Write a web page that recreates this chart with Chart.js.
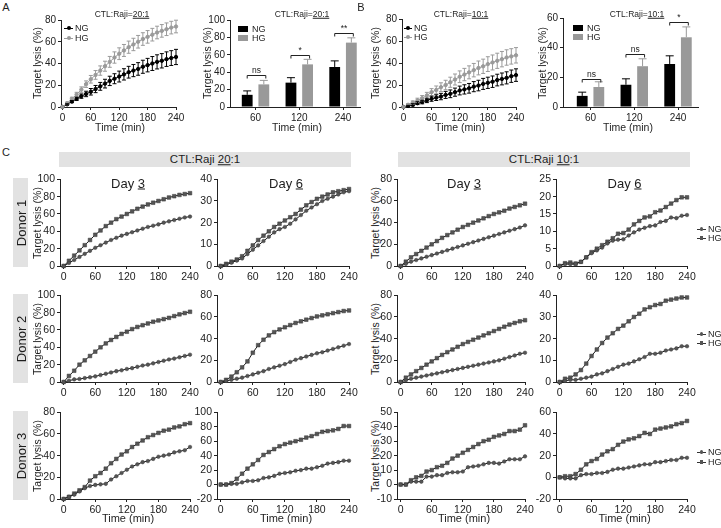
<!DOCTYPE html>
<html><head><meta charset="utf-8">
<script src="https://cdn.jsdelivr.net/npm/chart.js@4"></script>
<style>
body{margin:0;background:#fff;width:721px;height:528px;overflow:hidden;position:relative;font-family:"Liberation Sans",Arial,sans-serif;color:#1e1e1e}
canvas{position:absolute}
.t{position:absolute;white-space:nowrap;line-height:1}
.box{position:absolute;background:#e2e2e2}
.lg{position:absolute}
</style>
</head><body>
<script>
// ---------- DATA ----------
const seriesNames = ['NG','HG'];
const time = [0,10,20,30,40,50,60,70,80,90,100,110,120,130,140,150,160,170,180,190,200,210,220,230,240];
const timeTicks = [0,60,120,180,240];

// Panel A (20:1) kinetics, mean and error
const aNG = [0,2.5,5,7.5,10,12,14,16.5,19,21.5,24,26,28,30,32,33.5,35,37,38.5,40,41.5,42.5,44,45,46];
const aHG = [0,3.5,7.5,11.5,16,21,25.5,29.5,33.5,37.5,41.5,45.5,49,52,55,57.5,60,62.5,64.5,66.5,68.5,70,71.5,73,74];
const aNGerr = [0,0.5,1,1.5,2,2.5,3,3.3,3.6,4,4.3,4.6,5,5.2,5.4,5.6,5.8,6,6.2,6.4,6.5,6.6,6.7,6.8,7];
const aHGerr = [0,1,1.5,2,2.5,3,3.5,4,4.3,4.6,5,5.2,5.4,5.5,5.6,5.7,5.8,5.8,5.8,5.8,5.8,5.8,5.8,5.8,5.8];
// Panel B (10:1) kinetics
const bNG = [0,1,2,3.5,4.5,6,7.5,8.5,9.5,11,12,13.5,15,16,17,18.5,19.5,21,22,23,24.5,25.5,26.5,28,29];
const bHG = [0,2,4,6,8,10.5,13.5,15.5,18,20,22.5,25,27.5,29.5,31.5,33.5,35.5,37,39,40.5,42,43.5,45,46,47];
const bNGerr = [0,0.5,1,1.3,1.6,2,2.3,2.6,2.9,3.2,3.5,3.7,4,4.2,4.4,4.6,4.8,5,5.1,5.2,5.3,5.4,5.5,5.6,5.7];
const bHGerr = [0,1,1.5,2,2.4,2.8,3.2,3.6,4,4.3,4.6,5,5.3,5.6,5.9,6.1,6.3,6.5,6.7,6.8,6.9,7,7,7,7];

// Bar charts
const barCats = ['60','120','240'];
const aBarNG = [14,28,46], aBarNGerr = [4.5,5.7,7];
const aBarHG = [26,49,74], aBarHGerr = [4.6,5.8,5.5];
const aSigLevel = [37,60,85], aSigText = ['ns','*','**'];
const bBarNG = [7.5,15,29], bBarNGerr = [2.5,4,5.5];
const bBarHG = [13.5,27.5,47], bBarHGerr = [3.5,5,7];
const bSigLevel = [19,36,57], bSigText = ['ns','ns','*'];

// Panel C: donor x ratio x day
const d1_20_3_NG = [0,3.5,7,10.5,14,17.5,21,24,27,30,32.5,35,37,39,41,43,45,46.5,48,50,51.5,53,54.5,56,57];
const d1_20_3_HG = [0,6,12,18,24,30,36,41,46,50,54,57,60,63,66,68.5,71,73,75,77,79,80.5,82,83,84];
const d1_20_6_NG = [0,0.5,1.5,2.5,3.5,5.5,7.5,9.5,11.5,13.5,15.5,17,18,19.5,21.5,23.5,25.5,27,28.5,30,31,32,33,34,34.5];
const d1_20_6_HG = [0,1,2,3,4.5,7,9.5,12,14,16,18,19.5,21,22.5,24,26,28,29.5,31,32,33,34,34.5,35,35.5];
const d1_10_3_NG = [0,2,4,5.5,7,8.5,10,11.5,13,14.5,16,17.5,19,20.5,22,23.5,25,26.5,28,29.5,31,32.5,34,35.5,37.5];
const d1_10_3_HG = [0,4,8,11,14,17,20,23,26,28.5,31,33.5,36,38,40,42,44,46,48,49.5,51,53,54.5,56,57.5];
const d1_10_6_NG = [0,0.6,0.5,0.6,1.2,2.5,3.7,4.5,5.3,6.5,7.3,7.6,7.7,8.8,9.7,10.5,11,11.5,11.7,12.7,13,14,13.8,14.5,14.7];
const d1_10_6_HG = [0,0.8,1,0.7,1.2,2.5,4,5,6,7,8,9.3,9.5,10.5,12,13,14,14.3,15.5,16,17,18,19,19.8,19.8];

const d2_20_3_NG = [0,1.5,3,3.5,4.5,5.5,6.5,8,9.5,11,12.5,13.5,15,16,17.5,19,20,21.5,23,24.5,26,27,28.5,30,31.5];
const d2_20_3_HG = [0,7,13,20,25,30,35,40,44.5,48.5,52,55.5,58,61,63.5,65.5,67.5,69.5,71,72.5,74,76,78,79.5,81];
const d2_20_6_NG = [0,1,2,3,4,5.5,7,8.5,10,12,13.5,15,16.5,18.5,20.5,22,23.5,25,26.5,27.5,29,30.5,32,33.5,35];
const d2_20_6_HG = [0,2,5,9,13.5,19,27,34,39,43,46,48.5,50.5,52.5,54.5,56,57.5,59,60.5,61.5,62.5,63.5,64.5,65.5,66];
const d2_10_3_NG = [0,1.5,3,4,5,6,7,8,9,10,11,12,13,14,15,16,17,18,19,20,21.5,23,24.5,26,27];
const d2_10_3_HG = [0,4,7,10,13,16,19,22,25,27.5,30,32.5,35,37,39,41,43,45,47,49,51,53,54.5,56,57];
const d2_10_6_NG = [0,0.5,1,1,1.5,2,2.5,3.5,4,5,6,7,8,8.5,9.5,10.5,11.5,13,13,13.5,14.5,15,15.5,16.5,16.5];
const d2_10_6_HG = [0,1.5,2,3.5,5.5,8.5,12,15,18,20.5,22.5,24.5,26,28,30,31.5,33.5,34.5,35.5,36,37.5,38,38.5,39,39];

const d3_20_3_NG = [0,2,4,7,10,12,13,13.5,14,18,21,24,27,30,32,34,35,37,39,40,41,43,44,45,48];
const d3_20_3_HG = [0,2,5,8,11,17,21,24,28,33,37,41,44,48,51,54,57,59,61,63,64,66,67,69,70];
const d3_20_6_NG = [0,0,1,1,3,5,5,6,9,10,12,15,16,17,19,20,22,22,24,26,29,30,31,33,33];
const d3_20_6_HG = [0,0,2,8,15,22,28,34,41,45,49,53,56,58,60,62,65,67,70,73,74,75,77,81,81];
const d3_10_3_NG = [0,0,2,2,2,5.5,5.5,6.5,6.5,8,8.5,8.5,9,12,12.5,13,14,15,15,14.5,16,17.5,17.5,17.5,19.5];
const d3_10_3_HG = [0,0,3,5,6,9,10,12,13,15,18,20,22,24,26,28,30,31,33,34,35,37,37,38,41];
const d3_10_6_NG = [0,-1,-1,-1,2,3,3,4,4,5,7,8,8,9,10,11,12,12,14,14,15,16,16,18,18];
const d3_10_6_HG = [0,1,1,3,7,12,15,17,21,24,26,30,33,35,36,38,41,40,44,45,46,47,49,50,52];

// y tick labels per panel
const aLineTicks = [0,20,40,60,80];
const aBarTicks = [0,20,40,60,80,100];
const bLineTicks = [0,20,40,60,80];
const bBarTicks = [0,20,40,60];
const cYTicks = [
  [[0,20,40,60,80,100],[0,10,20,30,40],[0,20,40,60,80],[0,5,10,15,20,25]],
  [[0,20,40,60,80,100],[0,20,40,60,80],[0,20,40,60,80],[0,10,20,30,40]],
  [[0,20,40,60,80],[-20,0,20,40,60,80,100],[-10,0,10,20,30,40,50],[-20,0,20,40,60]]
];
const cData = [
  [[d1_20_3_NG,d1_20_3_HG],[d1_20_6_NG,d1_20_6_HG],[d1_10_3_NG,d1_10_3_HG],[d1_10_6_NG,d1_10_6_HG]],
  [[d2_20_3_NG,d2_20_3_HG],[d2_20_6_NG,d2_20_6_HG],[d2_10_3_NG,d2_10_3_HG],[d2_10_6_NG,d2_10_6_HG]],
  [[d3_20_3_NG,d3_20_3_HG],[d3_20_6_NG,d3_20_6_HG],[d3_10_3_NG,d3_10_3_HG],[d3_10_6_NG,d3_10_6_HG]]
];
const donors = ['Donor 1','Donor 2','Donor 3'];
const days = ['Day <u>3</u>','Day <u>6</u>','Day <u>3</u>','Day <u>6</u>'];
const yTitle = 'Target lysis (%)';
const xTitle = 'Time (min)';

// ---------- STYLE / LAYOUT ----------
const F = '"Liberation Sans", Arial, sans-serif';
const AX = '#222', TC = '#222';
Chart.defaults.font.family = F;
Chart.defaults.animation = false;

function txt(s, x, y, size, opt={}){
  const d = document.createElement('div'); d.className='t'; d.innerHTML = s;
  d.style.fontSize = size+'px'; d.style.left = x+'px'; d.style.top = y+'px';
  let tr = opt.left ? 'translate(0,-50%)' : 'translate(-50%,-50%)';
  if (opt.rot) tr += ' rotate(-90deg)';
  d.style.transform = tr;
  document.body.appendChild(d); return d;
}
function box(x0,y0,x1,y1){
  const d=document.createElement('div'); d.className='box';
  d.style.left=x0+'px'; d.style.top=y0+'px'; d.style.width=(x1-x0)+'px'; d.style.height=(y1-y0)+'px';
  document.body.appendChild(d);
}
function lgLine(x,y,w,color,mcolor,shape,size){
  const l=document.createElement('div'); l.className='lg';
  l.style.left=x+'px'; l.style.top=(y-0.5)+'px'; l.style.width=w+'px'; l.style.height='1px'; l.style.background=color;
  document.body.appendChild(l);
  const m=document.createElement('div'); m.className='lg';
  m.style.left=(x+w/2-size/2)+'px'; m.style.top=(y-size/2)+'px'; m.style.width=size+'px'; m.style.height=size+'px';
  m.style.background=mcolor; if(shape==='circle') m.style.borderRadius='50%';
  document.body.appendChild(m);
}
function lgBox(x,y,w,h,color){
  const m=document.createElement('div'); m.className='lg';
  m.style.left=x+'px'; m.style.top=(y-h/2)+'px'; m.style.width=w+'px'; m.style.height=h+'px'; m.style.background=color;
  document.body.appendChild(m);
}

const errPlugin = {
  id:'errbars',
  afterDatasetsDraw(chart){
    const ctx=chart.ctx, ys=chart.scales.y;
    chart.data.datasets.forEach((ds,i)=>{
      if(!ds.errors) return;
      const meta=chart.getDatasetMeta(i);
      ctx.save(); ctx.strokeStyle=ds.errColor; ctx.lineWidth=1;
      meta.data.forEach((el,j)=>{
        const e=ds.errors[j]; if(!e) return;
        const v=ds.data[j].y;
        const yt=ys.getPixelForValue(v+e);
        const yb=ds.upperOnly? el.y : ys.getPixelForValue(v-e);
        const c=ds.cap||2.5;
        ctx.beginPath();
        ctx.moveTo(el.x,yt); ctx.lineTo(el.x,yb);
        ctx.moveTo(el.x-c,yt); ctx.lineTo(el.x+c,yt);
        if(!ds.upperOnly){ctx.moveTo(el.x-c,yb); ctx.lineTo(el.x+c,yb);}
        ctx.stroke();
      });
      ctx.restore();
    });
  }
};
const sigPlugin = {
  id:'sig',
  afterDatasetsDraw(chart,args,opts){
    if(!opts || !opts.levels) return;
    const ctx=chart.ctx, ys=chart.scales.y;
    const m0=chart.getDatasetMeta(0), m1=chart.getDatasetMeta(1);
    ctx.save(); ctx.strokeStyle='#222'; ctx.fillStyle='#222'; ctx.lineWidth=1;
    ctx.font='8.5px '+F; ctx.textAlign='center'; ctx.textBaseline='bottom';
    opts.levels.forEach((lv,i)=>{
      const x0=m0.data[i].x, x1=m1.data[i].x+2, y=Math.round(ys.getPixelForValue(lv))+0.5;
      ctx.beginPath(); ctx.moveTo(x0,y+3); ctx.lineTo(x0,y); ctx.lineTo(x1,y); ctx.lineTo(x1,y+3); ctx.stroke();
      ctx.fillText(opts.labels[i],(x0+x1)/2,y-1);
    });
    ctx.restore();
  }
};

function axisOpts(min,max,ticks,fs,fmt){
  return {
    type:'linear', min, max, offset:false,
    afterBuildTicks:s=>{ s.ticks = ticks.map(v=>({value:v})); },
    grid:{display:true, drawOnChartArea:false, drawTicks:true, tickLength:3, color:AX, lineWidth:1, offset:false},
    border:{display:true, color:AX, width:1},
    ticks:{font:{family:F,size:fs}, color:TC, padding:2, autoSkip:false, maxRotation:0,
           callback: fmt || (v=>String(v))}
  };
}

function place(g, config, YW=30, XH=18, PT=8, PR=12){
  const c=document.createElement('canvas');
  const w=Math.round(g.x1-g.x0+YW+PR), h=Math.round(g.bottom-g.top+PT+XH);
  c.width=w; c.height=h;
  c.style.left=(g.x0-YW)+'px'; c.style.top=(g.top-PT)+'px';
  c.style.width=w+'px'; c.style.height=h+'px';
  document.body.appendChild(c);
  config.options.responsive=false;
  config.options.animation=false;
  config.options.layout={padding:{left:0,right:PR,top:PT,bottom:0}};
  config.options.scales.x.afterFit=s=>{s.height=XH;};
  config.options.scales.y.afterFit=s=>{s.width=YW;};
  config.options.plugins=Object.assign({legend:{display:false},tooltip:{enabled:false},title:{display:false}}, config.options.plugins||{});
  return new Chart(c,config);
}
const xy=(arr)=>time.map((t,i)=>({x:t,y:arr[i]}));

// ---------- PANEL A / B LINE ----------
function kinetic(g, ng, hg, ngErr, hgErr, yt){
  const mk=(arr,err,col)=>({data:xy(arr), errors:err, errColor:col, borderColor:col, backgroundColor:col,
    pointBackgroundColor:col, pointBorderColor:col, pointRadius:1.7, pointStyle:'circle', borderWidth:1, clip:false, cap:2});
  place(g,{type:'line', data:{datasets:[mk(hg,hgErr,'#9a9a9a'), mk(ng,ngErr,'#000')]},
    options:{scales:{x:axisOpts(-3,240,timeTicks,10), y:axisOpts(yt[0],yt[yt.length-1],yt,10)}},
    plugins:[errPlugin]});
}
function bars(g, ng, ngE, hg, hgE, yt, xmin, xmax, sig, sigTxt){
  const mk=(arr,err,col)=>({data:arr.map((v,i)=>({x:i,y:v})), errors:err, errColor:col, upperOnly:true, cap:4,
    backgroundColor:col, borderWidth:0, categoryPercentage:0.76, barPercentage:0.65});
  place(g,{type:'bar', data:{datasets:[mk(ng,ngE,'#000'), mk(hg,hgE,'#999')]},
    options:{scales:{x:axisOpts(xmin,xmax,[0,1,2],10,(v)=>barCats[v]), y:axisOpts(yt[0],yt[yt.length-1],yt,10)},
      plugins:{sig:{levels:sig,labels:sigTxt}}},
    plugins:[errPlugin,sigPlugin]});
}
kinetic({x0:61,x1:176,top:20,bottom:107}, aNG, aHG, aNGerr, aHGerr, aLineTicks);
bars({x0:230,x1:360,top:20,bottom:107}, aBarNG, aBarNGerr, aBarHG, aBarHGerr, aBarTicks, -0.583, 2.388, aSigLevel, aSigText);
kinetic({x0:402,x1:516,top:19,bottom:107}, bNG, bHG, bNGerr, bHGerr, bLineTicks);
bars({x0:563,x1:698,top:18,bottom:107}, bBarNG, bBarNGerr, bBarHG, bBarHGerr, bBarTicks, -0.629, 2.457, bSigLevel, bSigText);

// panel labels + texts
txt('A',6,7,11); txt('B',361,7,11); txt('C',6,152,11);
txt('CTL:Raji=<u>20:1</u>',122,14,8.5); txt('CTL:Raji=<u>20:1</u>',302,14,8.5);
txt('CTL:Raji=<u>10:1</u>',461,14,8.5); txt('CTL:Raji=<u>10:1</u>',637,14,8.5);
[[37,63],[207,63],[375,63],[542,63]].forEach(p=>txt(yTitle,p[0],p[1],10.5,{rot:true}));
[[120,127],[297,127],[460,127],[628,127]].forEach(p=>txt(xTitle,p[0],p[1],10.5));
// legends A/B
lgLine(64,28,9,'#000','#000','circle',4); txt(seriesNames[0],75,28,9,{left:true});
lgLine(64,38,9,'#9a9a9a','#9a9a9a','circle',4); txt(seriesNames[1],75,38,9,{left:true});
lgBox(238,29,10,6,'#000'); txt(seriesNames[0],252,29,9,{left:true});
lgBox(238,38,10,6,'#999'); txt(seriesNames[1],252,38,9,{left:true});
lgLine(404,28,8,'#000','#000','circle',4); txt(seriesNames[0],414,28,9,{left:true});
lgLine(404,37,8,'#9a9a9a','#9a9a9a','circle',4); txt(seriesNames[1],414,37,9,{left:true});
lgBox(573,28,10,6,'#000'); txt(seriesNames[0],587,28,9,{left:true});
lgBox(573,37,10,6,'#999'); txt(seriesNames[1],587,37,9,{left:true});

// ---------- PANEL C ----------
box(59,152,351,167); box(398,152,690,167);
txt('CTL:Raji <u>20</u>:1',205,160,11.5); txt('CTL:Raji <u>10</u>:1',544,160,11.5);
const cCols=[[60,190],[217,349],[397,525],[556,687]];
const cRows=[[179,266],[295,382],[412,499]];
cRows.forEach((r,ri)=>{
  box(13,r[0]-1,28,r[1]+1);
  txt(donors[ri],20.5,(r[0]+r[1])/2,13,{rot:true});
  [37,375].forEach(x=>txt(yTitle,x,(r[0]+r[1])/2,10.5,{rot:true}));
  cCols.forEach((c,ci)=>{
    const yt=cYTicks[ri][ci]; const pair=cData[ri][ci];
    const mk=(arr,shape,rad)=>({data:xy(arr), borderColor:'#1a1a1a', borderWidth:1, pointStyle:shape, pointRadius:rad,
      pointBackgroundColor:'#555', pointBorderColor:'#3a3a3a', pointBorderWidth:0.5, clip:false});
    place({x0:c[0],x1:c[1],top:r[0],bottom:r[1]},{type:'line',
      data:{datasets:[mk(pair[0],'circle',1.8), mk(pair[1],'rect',2.6)]},
      options:{scales:{x:axisOpts(-7,240,timeTicks,10.5), y:axisOpts(yt[0],yt[yt.length-1],yt,10.5)}}});
    if(ri===0) txt(days[ci],(c[0]+c[1])/2+3,183,13);
    if(ri===2) txt(xTitle,(c[0]+c[1])/2+3,518,11);
  });
  // legend
  const ly=[[229,238],[334,343],[452,462]][ri];
  lgLine(697,ly[0],9,'#333','#555','circle',3.6); txt(seriesNames[0],708,ly[0],9,{left:true});
  lgLine(697,ly[1],9,'#333','#555','rect',3.6); txt(seriesNames[1],708,ly[1],9,{left:true});
});
</script>
</body></html>
